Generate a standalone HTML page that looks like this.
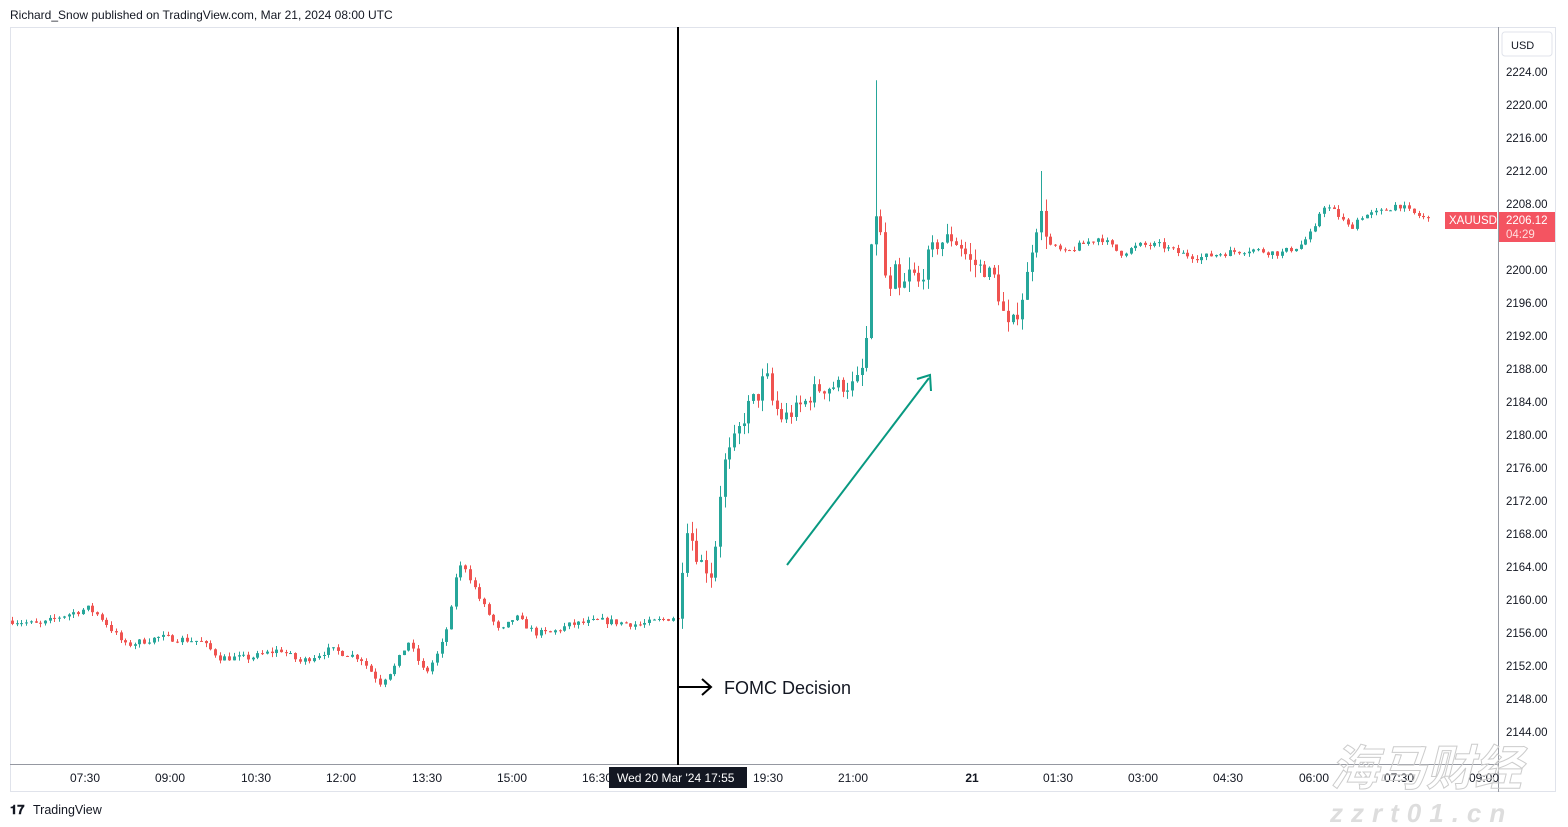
<!DOCTYPE html><html><head><meta charset="utf-8"><style>
body{margin:0;width:1568px;height:827px;background:#fff;font-family:"Liberation Sans",sans-serif;overflow:hidden;position:relative}
.t{position:absolute;font-size:12px;color:#131722}
</style></head><body>
<div class="t" style="left:10px;top:8px;font-size:12px">Richard_Snow published on TradingView.com, Mar 21, 2024 08:00 UTC</div>
<svg id="s" width="1568" height="827" style="position:absolute;left:0;top:0">
<rect x="10.5" y="27.5" width="1545" height="764" fill="none" stroke="#e0e3eb"/>
<line x1="1498.5" y1="27" x2="1498.5" y2="792" stroke="#9598a1"/>
<line x1="10" y1="764.5" x2="1498" y2="764.5" stroke="#9598a1"/>
<rect x="1502" y="32" width="50" height="24" rx="3" fill="#fff" stroke="#e0e3eb"/>
<text x="1511" y="49" font-size="11" fill="#131722">USD</text>
<g id="c"></g>
<line x1="678" y1="27" x2="678" y2="765" stroke="#000" stroke-width="2"/>
<line x1="678" y1="687" x2="710" y2="687" stroke="#000" stroke-width="2"/>
<polyline points="702,679 711,687 702,695" fill="none" stroke="#000" stroke-width="2"/>
<text x="724" y="694" font-size="18" fill="#131722">FOMC Decision</text>
<line x1="787" y1="565" x2="929" y2="378" stroke="#089981" stroke-width="2"/>
<polyline points="917,379 930,375 931,391" fill="none" stroke="#089981" stroke-width="2"/>
<rect x="609" y="767" width="138" height="21" fill="#131722"/>
<text x="617" y="782" font-size="12" fill="#fff">Wed 20 Mar '24   17:55</text>
<rect x="1445" y="212" width="52" height="17" fill="#f23645" opacity="0.85"/>
<text x="1449" y="224" font-size="11.5" fill="#fff">XAUUSD</text>
<rect x="1499" y="212" width="56" height="30" fill="#f23645" opacity="0.85"/>
<text x="1506" y="224" font-size="11.5" fill="#fff">2206.12</text>
<text x="1506" y="238" font-size="11.5" fill="#fdd">04:29</text>
<text x="10" y="814" font-size="13" font-weight="bold" fill="#131722">𝟏𝟕</text>
<text x="33" y="814" font-size="12.5" fill="#131722">TradingView</text>
<text x="1330" y="785" font-size="48" font-style="italic" font-weight="bold" fill="none" stroke="#ccc" font-family="Noto Sans CJK SC,sans-serif">海马财经</text>
<text x="1330" y="822" font-size="26" font-style="italic" font-weight="bold" fill="#ddd" letter-spacing="8">zzrt01.cn</text>
</svg>
<script>
var s=document.getElementById('s'),g=document.getElementById('c'),NS="http://www.w3.org/2000/svg";
function Y(p){return 72+(2224-p)*8.25}
function el(n,a){var e=document.createElementNS(NS,n);for(var k in a)e.setAttribute(k,a[k]);return e}
for(var p=2144;p<=2224;p+=4){if(p==2204)continue;var t=el('text',{x:1506,y:Y(p)+4,'font-size':11.5,fill:'#131722'});t.textContent=p.toFixed(2);s.insertBefore(t,g)}
var tl=[[85,'07:30'],[170,'09:00'],[256,'10:30'],[341,'12:00'],[427,'13:30'],[512,'15:00'],[597,'16:30'],[768,'19:30'],[853,'21:00'],[972,'21'],[1058,'01:30'],[1143,'03:00'],[1228,'04:30'],[1314,'06:00'],[1399,'07:30'],[1484,'09:00']];
tl.forEach(function(a){var t=el('text',{x:a[0],y:782,'font-size':12,fill:'#131722','text-anchor':'middle'});if(a[1]=='21')t.setAttribute('font-weight','bold');t.textContent=a[1];s.insertBefore(t,g)});
var K=[[12,2157.5],[40,2157],[60,2158],[88,2159],[100,2158],[125,2154.5],[160,2155.5],[200,2155],[220,2153],[250,2153],[280,2154],[300,2152.5],[330,2154],[345,2153.5],[360,2153],[380,2150],[395,2152],[408,2155],[425,2151],[440,2154],[450,2158],[457,2164],[465,2164],[480,2160],[500,2156],[515,2158],[535,2156],[550,2156],[570,2157],[600,2157.5],[640,2157],[676,2158],[680,2157],[684,2170],[690,2168],[698,2165],[712,2163],[718,2170],[722,2176],[730,2178],[740,2181],[750,2184],[760,2185],[765,2188],[772,2184],[782,2182],[795,2183],[805,2184],[815,2185.5],[835,2186],[855,2186],[862,2188],[868,2193],[873,2208],[878,2206],[882,2203],[888,2196],[895,2200],[900,2197],[910,2200],[920,2198],[925,2201],[935,2203],[950,2204],[960,2203],[970,2201],[985,2200],[995,2199],[1000,2196],[1008,2193],[1015,2194],[1025,2198],[1033,2204],[1040,2207],[1050,2203],[1065,2202],[1080,2203],[1100,2204],[1120,2202],[1140,2203],[1160,2203],[1180,2202],[1200,2201.5],[1220,2202],[1250,2202.5],[1280,2202],[1300,2203],[1315,2205],[1322,2208],[1335,2207],[1350,2205],[1360,2206.5],[1380,2207],[1398,2208],[1410,2207],[1420,2206.5],[1428,2206.1]];
function f(x){for(var i=1;i<K.length;i++)if(x<=K[i][0]){var a=K[i-1],b=K[i];return a[1]+(b[1]-a[1])*(x-a[0])/(b[0]-a[0])}return K[K.length-1][1]}
var seed=7;function r(){seed=(seed*16807)%2147483647;return seed/2147483647}
var prev=f(12);
for(var x=12;x<=1429;x+=4.72){var c=f(x)+(r()-0.5)*(x>680&&x<1050?2:0.8);var o=prev;var vol=(x>680&&x<1050)?1.5:0.5;
var h=Math.max(o,c)+r()*vol,l=Math.min(o,c)-r()*vol;
if(Math.abs(x-873.5)<2.4)h=2223;if(Math.abs(x-1040)<2.4)h=2212;if(Math.abs(x-682)<2.4)l=2156.5;
var col=c>=o?'#26a69a':'#ef5350',xx=Math.round(x);
g.appendChild(el('line',{x1:xx+0.5,x2:xx+0.5,y1:Y(h),y2:Y(l),stroke:col,'stroke-width':1}));
var y1=Y(Math.max(o,c)),y2=Y(Math.min(o,c));g.appendChild(el('rect',{x:xx-1,y:y1,width:3,height:Math.max(1,y2-y1),fill:col}));prev=c}
</script>
</body></html>
